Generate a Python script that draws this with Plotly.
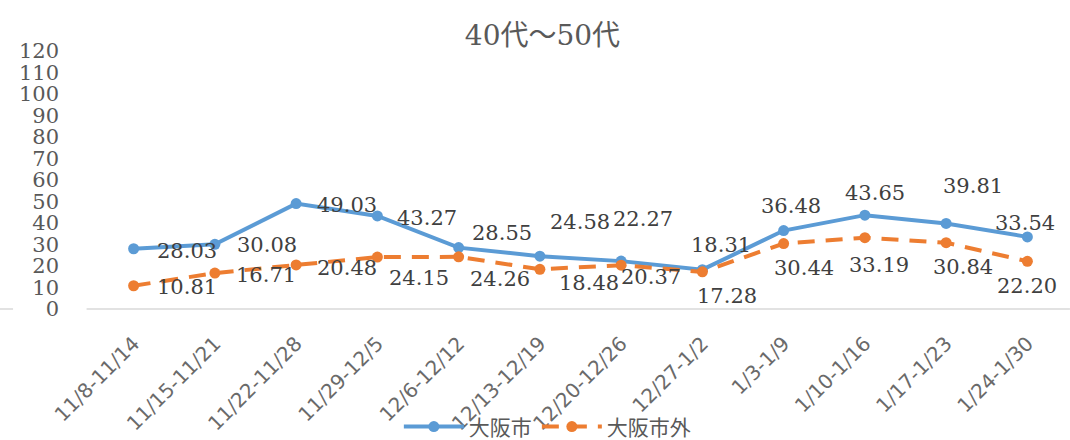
import plotly.graph_objects as go

categories = ["11/8-11/14", "11/15-11/21", "11/22-11/28", "11/29-12/5", "12/6-12/12",
              "12/13-12/19", "12/20-12/26", "12/27-1/2", "1/3-1/9", "1/10-1/16",
              "1/17-1/23", "1/24-1/30"]
osaka_city = [28.03, 30.08, 49.03, 43.27, 28.55, 24.58, 22.27, 18.31, 36.48, 43.65, 39.81, 33.54]
osaka_outside = [10.81, 16.71, 20.48, 24.15, 24.26, 18.48, 20.37, 17.28, 30.44, 33.19, 30.84, 22.20]
y_ticks = list(range(0, 121, 10))

# label offsets in pixels (style only)
city_dx = [53, 52, 51, 50, 43, 40, 22, 19, 7, 10, 27, -2]
city_dy = [-2, -1, -1, -2, 15, 34, 42, 25, 25, 22, 37, 14]
out_dx = [53, 51, 51, 42, 41, 49, 30, 25, 20, 14, 17, 0]
out_dy = [-1, -2, -3, -21, -22, -14, -12, -24, -24, -27, -24, -25]

BLUE = "#5B9BD5"
ORANGE = "#ED7D31"
SERIF = "DejaVu Serif, Noto Sans CJK JP"

fig = go.Figure()
fig.add_trace(go.Scatter(
    x=categories, y=osaka_city, name="大阪市", mode="lines+markers",
    line=dict(color=BLUE, width=4), marker=dict(color=BLUE, size=11)))
fig.add_trace(go.Scatter(
    x=categories, y=osaka_outside, name="大阪市外", mode="lines+markers",
    line=dict(color=ORANGE, width=4, dash="17px,11px"), marker=dict(color=ORANGE, size=11)))

for i, c in enumerate(categories):
    fig.add_annotation(x=c, y=osaka_city[i], text=f"{osaka_city[i]:.2f}", showarrow=False,
                       xshift=city_dx[i], yshift=city_dy[i],
                       font=dict(family=SERIF, size=21, color="#404040"))
    fig.add_annotation(x=c, y=osaka_outside[i], text=f"{osaka_outside[i]:.2f}", showarrow=False,
                       xshift=out_dx[i], yshift=out_dy[i],
                       font=dict(family=SERIF, size=21, color="#404040"))

# zero baseline (with a gap behind the "0" label)
for x0, x1 in [(-0.096, -0.082), (-0.0066, 1.002)]:
    fig.add_shape(type="line", xref="paper", yref="paper", x0=x0, x1=x1, y0=0, y1=0,
                  line=dict(color="#D9D9D9", width=1.5), layer="below")

fig.update_layout(
    width=1070, height=440,
    margin=dict(l=93, r=2, t=51, b=131, autoexpand=False),
    paper_bgcolor="white", plot_bgcolor="white",
    title=dict(text="40代～50代", x=0.507, xref="container", xanchor="center",
               y=0.92, yref="container", yanchor="middle",
               font=dict(family=SERIF, size=28, color="#595959")),
    showlegend=True,
    legend=dict(orientation="h", x=0.466, xanchor="center", y=-0.457, yanchor="middle",
                font=dict(family="Noto Sans CJK JP", size=21, color="#595959"),
                bgcolor="rgba(0,0,0,0)", itemwidth=60, traceorder="normal"),
    xaxis=dict(range=[-0.5, 11.5], tickangle=-45, showgrid=False, zeroline=False, showline=False,
               tickfont=dict(family="DejaVu Sans", size=20, color="#6A6A6A"),
               ticks="", ticklabelstandoff=18, automargin=False),
    yaxis=dict(range=[0, 120], tickvals=y_ticks, showgrid=False, zeroline=False, showline=False,
               tickfont=dict(family=SERIF, size=21, color="#595959"),
               ticks="", ticklabelstandoff=33, automargin=False),
)

fig.write_html("out.html", config={"displayModeBar": False},
               post_script="document.body.style.margin='0';document.body.style.overflow='hidden';")
